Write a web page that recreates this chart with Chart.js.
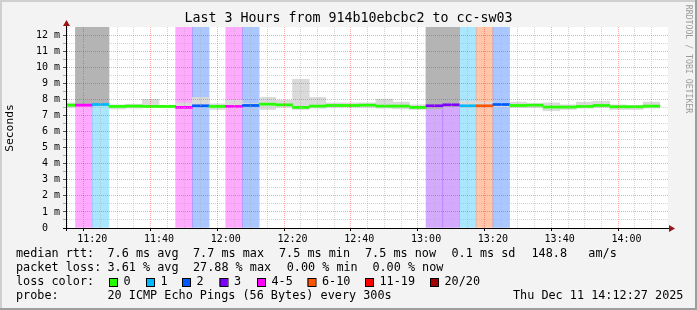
<!DOCTYPE html>
<html><head><meta charset="utf-8">
<script src="https://cdn.jsdelivr.net/npm/chart.js@4/dist/chart.umd.min.js"></script>
<style>html,body{margin:0;padding:0;background:#f3f3f3;overflow:hidden}canvas{display:block}</style>
</head><body>
<div style="width:697px;height:310px;position:relative"><canvas id="c" width="697" height="310"></canvas></div>
<script>
// ---- data (5-minute buckets) ----
const bucketStarts = ["11:10","11:15","11:20","11:25","11:30","11:35","11:40","11:45","11:50","11:55",
  "12:00","12:05","12:10","12:15","12:20","12:25","12:30","12:35","12:40","12:45","12:50","12:55",
  "13:00","13:05","13:10","13:15","13:20","13:25","13:30","13:35","13:40","13:45","13:50","13:55",
  "14:00","14:05"];
const medianRtt = [7.64,7.64,7.68,7.56,7.58,7.56,7.56,7.50,7.60,7.56,
  7.56,7.62,7.70,7.66,7.50,7.58,7.62,7.62,7.64,7.58,7.58,7.50,
  7.60,7.66,7.60,7.60,7.68,7.62,7.64,7.52,7.52,7.56,7.62,7.54,
  7.54,7.58];
const smokeLow = [7.49,7.60,7.62,7.40,7.45,7.50,7.50,7.45,7.55,7.37,
  7.50,7.55,7.37,7.50,7.37,7.45,7.50,7.50,7.50,7.45,7.41,7.37,
  7.40,7.55,7.49,7.52,7.55,7.49,7.49,7.29,7.37,7.45,7.49,7.37,
  7.37,7.45];
const smokeHigh = [7.78,15,15,7.66,7.70,8.00,7.64,7.78,8.12,7.72,
  7.95,7.74,8.12,7.95,9.25,8.12,7.78,7.78,7.78,8.01,7.83,7.66,
  15,15,7.87,7.83,7.74,7.83,7.74,7.78,7.66,7.83,7.89,7.66,
  7.62,7.83];
const lossPings = [0,5,1,0,0,0,0,4,2,0,
  4,2,0,0,0,0,0,0,0,0,0,0,
  3,3,1,6,2,0,0,0,0,0,0,0,
  0,0];
const lossBins = ["0","1","2","3","4-5","6-10","11-19","20/20"];
const lossBinColors = ["#26ff00","#00b8ff","#0059ff","#7e00ff","#ff00ff","#ff5500","#ff0000","#a10000"];
const xTickLabels = ["11:20","11:40","12:00","12:20","12:40","13:00","13:20","13:40","14:00"];
const yTickLabels = ["0  ","1 m","2 m","3 m","4 m","5 m","6 m","7 m","8 m","9 m","10 m","11 m","12 m"];
const legendRtt = ["median rtt:","7.6 ms avg","7.7 ms max","7.5 ms min","7.5 ms now","0.1 ms sd","148.8   am/s"];
const legendLoss = ["packet loss:","3.61 % avg","27.88 % max","0.00 % min","0.00 % now"];
const probeText = ["probe:","20 ICMP Echo Pings (56 Bytes) every 300s"];
const stampText = "Thu Dec 11 14:12:27 2025";
const titleText = "Last 3 Hours from 914b10ebcbc2 to cc-sw03";

const Y_MAX = 12.5;
const toMin = s => { const [h,m] = s.split(":").map(Number); return h*60+m; };
const fmt = m => String(Math.floor(m/60)).padStart(2,"0")+":"+String(m%60).padStart(2,"0");
const nowMin = toMin("14:12") + 27/60;
const binIndex = p => p===0?0:p===1?1:p===2?2:p===3?3:p<=5?4:p<=10?5:p<=19?6:7;
const hexA = (h,a) => `rgba(${parseInt(h.slice(1,3),16)},${parseInt(h.slice(3,5),16)},${parseInt(h.slice(5,7),16)},${a})`;
const xs = bucketStarts.map(s => toMin(s) + 2.5);

const barCommon = {type:'bar', grouped:false, barPercentage:1, categoryPercentage:1, borderWidth:0, borderSkipped:false, clip:0};
const datasets = [
  {...barCommon, label:'median',
    data: xs.map((x,i)=>({x, y:[medianRtt[i]-0.065, medianRtt[i]+0.065]})),
    backgroundColor: lossPings.map(p => lossBinColors[binIndex(p)])},
  {...barCommon, label:'smoke',
    data: xs.map((x,i)=>({x, y:[smokeLow[i], smokeHigh[i]]})),
    backgroundColor: smokeHigh.map(h => h > Y_MAX ? '#b4b4b4' : '#dadada')},
  {...barCommon, label:'loss',
    data: xs.map((x,i)=>({x, y: lossPings[i] > 0 ? [0, Y_MAX] : null})),
    backgroundColor: lossPings.map(p => hexA(lossBinColors[binIndex(p)], 0.333))}
];

const MONO = '"DejaVu Sans Mono", monospace';
const decor = {
  id:'decor',
  beforeDraw(chart){
    const {ctx, chartArea:a, width:W, height:H} = chart;
    ctx.save();
    ctx.fillStyle='#f3f3f3'; ctx.fillRect(0,0,W,H);
    ctx.fillStyle='#cfcfcf'; ctx.fillRect(0,0,W,2); ctx.fillRect(0,0,2,H);
    ctx.fillStyle='#9e9e9e'; ctx.fillRect(0,H-2,W,2); ctx.fillRect(W-2,0,2,H);
    ctx.fillStyle='#ffffff'; ctx.fillRect(a.left,a.top,a.right-a.left,a.bottom-a.top);
    ctx.restore();
  },
  afterDraw(chart){
    const {ctx, chartArea:a} = chart;
    ctx.save();
    // axes
    ctx.strokeStyle='#000'; ctx.lineWidth=1;
    ctx.beginPath(); ctx.moveTo(a.left-0.5, a.bottom+3); ctx.lineTo(a.left-0.5, a.top-3); ctx.stroke();
    ctx.beginPath(); ctx.moveTo(a.left-4, a.bottom+0.5); ctx.lineTo(a.right+2, a.bottom+0.5); ctx.stroke();
    ctx.fillStyle='#961414';
    ctx.beginPath(); ctx.moveTo(a.left-4,a.top-1); ctx.lineTo(a.left+3,a.top-1); ctx.lineTo(a.left-0.5,a.top-7); ctx.closePath(); ctx.fill();
    ctx.beginPath(); ctx.moveTo(a.right+1,a.bottom-3); ctx.lineTo(a.right+1,a.bottom+4); ctx.lineTo(a.right+7,a.bottom+0.5); ctx.closePath(); ctx.fill();
    // title
    ctx.fillStyle='#000'; ctx.textBaseline='middle';
    ctx.font='13.3px '+MONO; ctx.textAlign='center';
    ctx.fillText(titleText, 348.5, 19);
    // y title
    ctx.save(); ctx.translate(10.5, 128); ctx.rotate(-Math.PI/2);
    ctx.font='11.3px '+MONO; ctx.fillText('Seconds',0,0); ctx.restore();
    // side watermark
    ctx.save(); ctx.translate(688.5, 59); ctx.rotate(Math.PI/2);
    ctx.fillStyle='#9a9a9a'; ctx.font='8.2px '+MONO; ctx.fillText('RRDTOOL / TOBI OETIKER',0,0); ctx.restore();
    // legend
    ctx.textAlign='left'; ctx.font='11.8px '+MONO; ctx.fillStyle='#000';
    const rttX=[16,107.5,193,279,365,451.5,531.5];
    legendRtt.forEach((t,i)=>ctx.fillText(t, rttX[i], 254));
    const lossX=[16,107.5,193,286.7,372.4];
    legendLoss.forEach((t,i)=>ctx.fillText(t, lossX[i], 268));
    ctx.fillText('loss color:',16,282);
    const sqX=[109,146,182,219.5,257,307.5,365,430];
    lossBins.forEach((b,i)=>{
      ctx.fillStyle=lossBinColors[i]; ctx.fillRect(sqX[i],278,8,8);
      ctx.strokeStyle='#000'; ctx.strokeRect(sqX[i]+0.5,278.5,8,8);
      ctx.fillStyle='#000'; ctx.fillText(b, sqX[i]+14.5, 282);
    });
    ctx.fillText(probeText[0],16,296);
    ctx.fillText(probeText[1],107.5,296);
    ctx.fillText(stampText,513,296);
    ctx.restore();
  }
};

new Chart(document.getElementById('c'), {
  type:'bar',
  data:{datasets},
  plugins:[decor],
  options:{
    responsive:false, devicePixelRatio:1, animation:false,
    layout:{padding:{left:0,top:27,right:29,bottom:0}},
    plugins:{legend:{display:false}, tooltip:{enabled:false}, title:{display:false}},
    scales:{
      x:{type:'linear', min: nowMin-180, max: nowMin, offset:false,
        afterFit: s => { s.height = 82; },
        afterBuildTicks: s => { const t=[]; for(let m=Math.ceil(s.min/5)*5; m<=s.max; m+=5) t.push({value:m}); s.ticks=t; },
        grid:{z:1, drawTicks:true, tickLength:3,
          color: c => (c.tick && c.tick.value%20===0) ? 'rgba(255,0,0,0.35)' : 'rgba(180,180,180,0.6)',
          tickColor: c => (c.tick && c.tick.value%20===0) ? '#000' : 'rgba(0,0,0,0)'},
        border:{display:false, dash:[1,1]},
        ticks:{autoSkip:false, maxRotation:0, padding:2, color:'#000', font:{family:MONO,size:10},
          callback: v => xTickLabels.includes(fmt(v)) ? fmt(v) : ''}
      },
      y:{min:0, max:Y_MAX,
        afterFit: s => { s.width = 67; },
        afterBuildTicks: s => { const t=[]; for(let v=0; v<=12; v+=0.5) t.push({value:v}); s.ticks=t; },
        grid:{z:1, drawTicks:true, tickLength:4,
          color: c => (c.tick && Number.isInteger(c.tick.value)) ? 'rgba(255,0,0,0.35)' : 'rgba(180,180,180,0.6)',
          tickColor: c => (c.tick && Number.isInteger(c.tick.value)) ? '#555' : '#aaa'},
        border:{display:false, dash:[1,1]},
        ticks:{autoSkip:false, padding:3, color:'#000', font:{family:MONO,size:10},
          callback: v => Number.isInteger(v) ? yTickLabels[v] : ''}
      }
    }
  }
});
</script>
</body></html>
